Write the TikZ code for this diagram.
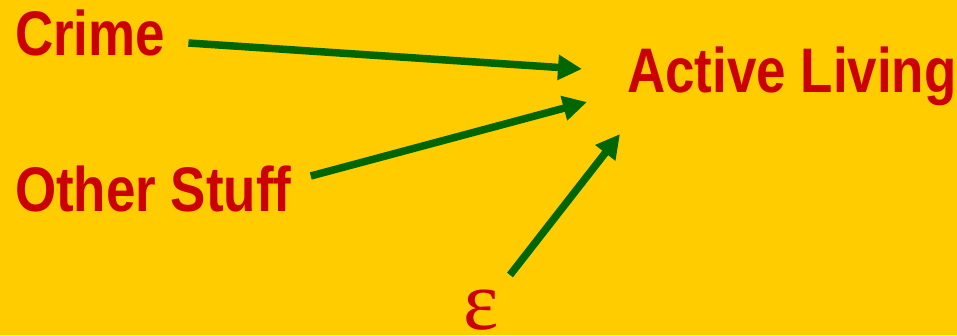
\documentclass[tikz,border=0pt]{standalone}
\usepackage{fontspec}
\usetikzlibrary{arrows.meta}
\newfontfamily\labelfont[FakeStretch=0.84]{Liberation Sans}
\newfontfamily\greekfont{Liberation Serif}
\definecolor{slidebg}{HTML}{FFCC00}
\definecolor{slidered}{HTML}{CC0000}
\definecolor{slidegreen}{HTML}{006600}
\begin{document}
\begin{tikzpicture}[x=1pt,y=1pt,
  every node/.style={inner sep=0pt,text=slidered},
  var/.style={anchor=base west,font=\labelfont\bfseries\fontsize{63}{63}\selectfont},
  arr/.style={draw=slidegreen,line width=7.5pt,-{Triangle[length=24pt,width=24pt]}}]
\fill[slidebg] (0,0) rectangle (957,335);
\useasboundingbox (0,0) rectangle (957,335);
% variables (y measured up from the bottom edge)
\node[var] (crime) at (15,279) {Crime};
\node[var] (other) at (15,124) {Other Stuff};
\node[var] (active) at (627,242) {Active Living};
\node[anchor=base west,font=\greekfont\fontsize{84}{84}\selectfont] (eps) at (463,6) {ε};
% paths into the outcome
\draw[arr] ([xshift=23pt,yshift=13pt]crime.base east) -- ([xshift=-45pt,yshift=24pt]active.base west);
\draw[arr] ([xshift=19pt,yshift=35pt]other.base east) -- ([xshift=-40pt,yshift=-9pt]active.base west);
\draw[arr] ([xshift=47pt,yshift=54pt]eps.base west) -- ([xshift=-7pt,yshift=-41pt]active.base west);
\end{tikzpicture}
\end{document}
